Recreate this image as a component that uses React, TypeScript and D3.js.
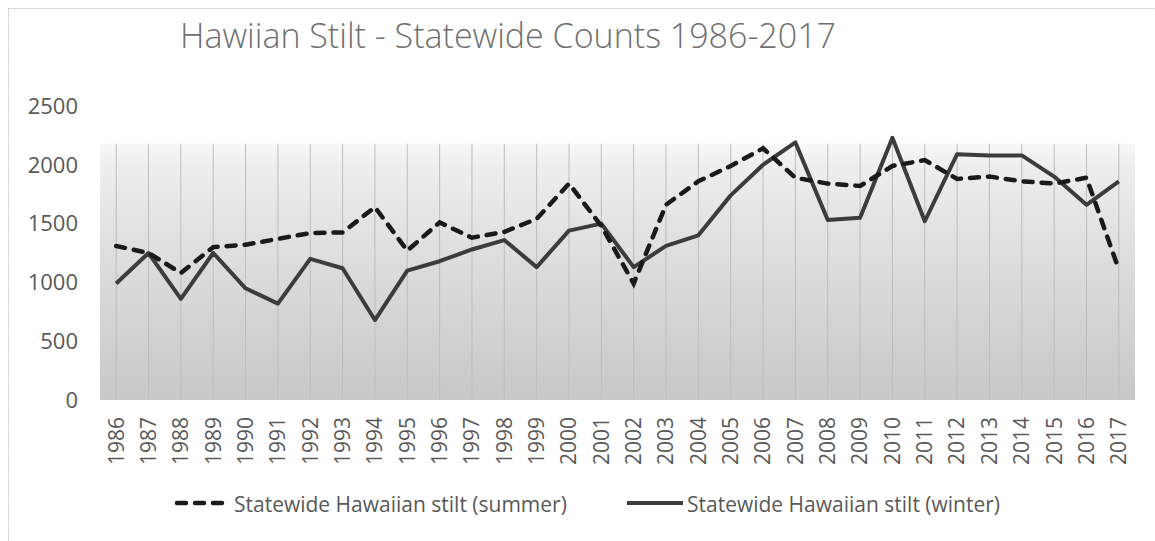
import React from 'react';
import * as d3 from 'd3';

// categories and series values
const years = [
  '1986', '1987', '1988', '1989', '1990', '1991', '1992', '1993',
  '1994', '1995', '1996', '1997', '1998', '1999', '2000', '2001',
  '2002', '2003', '2004', '2005', '2006', '2007', '2008', '2009',
  '2010', '2011', '2012', '2013', '2014', '2015', '2016', '2017',
];
const summer = [
  1310, 1250, 1080, 1300, 1320, 1370, 1420, 1425, 1640, 1270, 1510, 1380,
  1430, 1540, 1840, 1480, 990, 1660, 1860, 1990, 2140, 1890, 1840, 1820,
  1990, 2040, 1880, 1900, 1860, 1840, 1890, 1110,
];
const winter = [
  990, 1250, 860, 1250, 950, 820, 1200, 1120, 680, 1100, 1180, 1280,
  1360, 1130, 1440, 1500, 1130, 1310, 1400, 1740, 2000, 2190, 1530, 1550,
  2230, 1520, 2090, 2080, 2080, 1900, 1660, 1860,
];
const yTicks = [0, 500, 1000, 1500, 2000, 2500];
const title = 'Hawiian Stilt - Statewide Counts 1986-2017';
const summerLabel = 'Statewide Hawaiian stilt (summer)';
const winterLabel = 'Statewide Hawaiian stilt (winter)';

const W = 1155;
const H = 541;
const font = '"Open Sans", "Noto Sans", sans-serif';

export default function App() {
  const x = d3.scaleBand().domain(years).range([100, 1135]).padding(0);
  const y = d3.scaleLinear().domain([0, 2500]).range([400, 106]);
  const cx = (d: string) => (x(d) as number) + x.bandwidth() / 2;

  const line = d3
    .line<number>()
    .x((_, i) => cx(years[i]))
    .y((d) => y(d));

  // the textured plot fill fades out near this value
  const fillTop = y(2180);

  return (
    <svg
      width={W}
      height={H}
      style={{ position: 'absolute', left: 0, top: 0, background: '#fff' }}
    >
      <defs>
        <linearGradient id="stipple" x1="0" y1="0" x2="0" y2="1">
          <stop offset="0" stopColor="#f7f7f7" />
          <stop offset="0.1" stopColor="#ededed" />
          <stop offset="0.5" stopColor="#dbdbdb" />
          <stop offset="1" stopColor="#c8c8c8" />
        </linearGradient>
      </defs>

      {/* chart border, only top and left edges fall inside the picture */}
      <rect x={8.5} y={8.5} width={W} height={H} fill="none" stroke="#c8c8c8" strokeDasharray="2 1" />

      <text x={508} y={48} textAnchor="middle" fontFamily={font} fontSize={34} fontWeight={300} fill="#707070">
        {title}
      </text>

      <rect x={100} y={fillTop} width={1035} height={y(0) - fillTop} fill="url(#stipple)" />

      {years.map((d) => (
        <line key={d} x1={cx(d)} x2={cx(d)} y1={fillTop} y2={y(0)} stroke="#bdbdbd" strokeWidth={1} />
      ))}

      {yTicks.map((t) => (
        <text key={t} x={78} y={y(t)} dy="0.35em" textAnchor="end" fontFamily={font} fontSize={22} fill="#595959">
          {t}
        </text>
      ))}

      {years.map((d) => (
        <text
          key={d}
          transform={`translate(${cx(d)},417) rotate(-90)`}
          dy="0.35em"
          textAnchor="end"
          fontFamily={font}
          fontSize={21}
          fill="#595959"
        >
          {d}
        </text>
      ))}

      <path d={line(winter) || ''} fill="none" stroke="#3c3c3c" strokeWidth={4} strokeLinejoin="round" />
      <path
        d={line(summer) || ''}
        fill="none"
        stroke="#1a1a1a"
        strokeWidth={4.5}
        strokeDasharray="9 9"
        strokeLinecap="round"
      />

      {/* legend */}
      <line x1={177} x2={225} y1={503} y2={503} stroke="#1a1a1a" strokeWidth={4.5} strokeDasharray="9 9" strokeLinecap="round" />
      <text x={234} y={512} fontFamily={font} fontSize={21} fill="#595959">
        {summerLabel}
      </text>
      <line x1={627} x2={683} y1={503} y2={503} stroke="#3c3c3c" strokeWidth={4} />
      <text x={687} y={512} fontFamily={font} fontSize={21} fill="#595959">
        {winterLabel}
      </text>
    </svg>
  );
}
